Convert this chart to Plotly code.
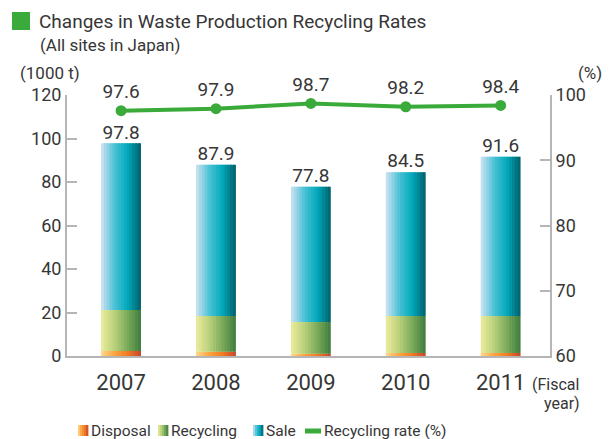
import plotly.graph_objects as go

# data
years = ['2007', '2008', '2009', '2010', '2011']
disposal = [2.3, 2.0, 1.1, 1.4, 1.4]
recycling = [18.9, 16.4, 14.5, 17.0, 17.0]
sale = [76.6, 69.5, 62.2, 66.1, 73.2]
totals = [97.8, 87.9, 77.8, 84.5, 91.6]
rate = [97.6, 97.9, 98.7, 98.2, 98.4]

FONT = 'Roboto, Liberation Sans, sans-serif'
TXT = '#363636'
AXC = '#b5b5b5'
GREEN = '#3aaa3a'

# plot area in pixels (used to place the decorations)
L, R, T, B = 67, 550, 95, 356


def px(x):
    return (x - L) / (R - L)


def py(y):
    return (B - y) / (B - T)


# gradient stops (left -> right) for each stacked part
grad = {
    'Disposal': ['#ffd98c', '#fba443', '#f27a22', '#c4462c'],
    'Recycling': ['#eceb9c', '#b9d17c', '#7aaa5a', '#3f7c3f'],
    'Sale': ['#cfe3f2', '#4cc2d6', '#00a8ba', '#005f6b'],
}


def hex2rgb(h):
    h = h.lstrip('#')
    return [int(h[i:i + 2], 16) for i in (0, 2, 4)]


def interp(stops, t):
    n = len(stops) - 1
    k = min(int(t * n), n - 1)
    f = t * n - k
    a, b = hex2rgb(stops[k]), hex2rgb(stops[k + 1])
    c = [round(a[j] + (b[j] - a[j]) * f) for j in range(3)]
    return 'rgb(%d,%d,%d)' % tuple(c)


x = list(range(len(years)))
bw = 0.42
nstrip = 14
sw = bw / nstrip

base_rec = disposal
base_sale = [d + r for d, r in zip(disposal, recycling)]
parts = [('Disposal', disposal, [0] * len(years)),
         ('Recycling', recycling, base_rec),
         ('Sale', sale, base_sale)]

fig = go.Figure()

# gradient bars made of thin strips (each a bit wider so no seams show)
for name, vals, base in parts:
    for i in range(nstrip):
        col = interp(grad[name], (i + 0.5) / nstrip)
        w = sw * 1.6 if i < nstrip - 1 else sw
        fig.add_trace(go.Bar(x=x, y=vals, base=base, width=w,
                             offset=-bw / 2 + i * sw, marker_color=col,
                             marker_line_width=0, showlegend=False,
                             hoverinfo='skip'))

# total labels
fig.add_trace(go.Scatter(x=x, y=totals, mode='text', text=[f'{v:.1f}' for v in totals],
                         textposition='top center', textfont=dict(size=19, color=TXT, family=FONT),
                         showlegend=False, hoverinfo='skip', cliponaxis=False))

# recycling rate line
fig.add_trace(go.Scatter(x=x, y=rate, yaxis='y2', mode='lines+markers+text',
                         text=[f'{v:.1f}' for v in rate], textposition='top center',
                         textfont=dict(size=19, color=TXT, family=FONT),
                         line=dict(color=GREEN, width=4), marker=dict(size=11, color=GREEN),
                         showlegend=False, cliponaxis=False))

fig.update_layout(
    width=611, height=439,
    margin=dict(l=L, r=611 - R, t=T, b=439 - B),
    plot_bgcolor='white', paper_bgcolor='white',
    barmode='overlay', showlegend=False,
    font=dict(family=FONT, color=TXT),
    xaxis=dict(range=[-0.57, 4.52], tickmode='array', tickvals=x, ticktext=years,
               tickfont=dict(size=22, color=TXT), showgrid=False, zeroline=False,
               showline=True, linecolor=AXC, linewidth=2, ticks='', automargin=False,
               ticklabelstandoff=6),
    yaxis=dict(range=[0, 120], dtick=20, showgrid=False, zeroline=False,
               showline=True, linecolor=AXC, linewidth=2, ticks='inside', ticklen=10,
               tickcolor=AXC, tickwidth=2, tickfont=dict(size=18, color=TXT), automargin=False),
    yaxis2=dict(range=[60, 100], dtick=10, overlaying='y', side='right', showgrid=False,
                zeroline=False, showline=True, linecolor=AXC, linewidth=2, ticks='inside',
                ticklen=10, tickcolor=AXC, tickwidth=2, tickfont=dict(size=18, color=TXT),
                automargin=False),
)

# title block
fig.add_shape(type='rect', xref='paper', yref='paper', x0=px(12), x1=px(30), y0=py(30), y1=py(12),
              fillcolor=GREEN, line_width=0)
fig.add_annotation(xref='paper', yref='paper', x=px(37), y=py(21), xanchor='left', yanchor='middle',
                   text='Changes in Waste Production Recycling Rates',
                   showarrow=False, font=dict(size=19, color=TXT))
fig.add_annotation(xref='paper', yref='paper', x=px(38), y=py(45), xanchor='left', yanchor='middle',
                   text='(All sites in Japan)', showarrow=False, font=dict(size=17, color=TXT))
fig.add_annotation(xref='paper', yref='paper', x=px(18), y=py(73), xanchor='left', yanchor='middle',
                   text='(1000 t)', showarrow=False, font=dict(size=17, color=TXT))
fig.add_annotation(xref='paper', yref='paper', x=px(576), y=py(73), xanchor='left', yanchor='middle',
                   text='(%)', showarrow=False, font=dict(size=17, color=TXT))
fig.add_annotation(xref='paper', yref='paper', x=px(530), y=py(384), xanchor='left', yanchor='middle',
                   text='(Fiscal', showarrow=False, font=dict(size=16, color=TXT))
fig.add_annotation(xref='paper', yref='paper', x=px(582), y=py(403), xanchor='right', yanchor='middle',
                   text='year)', showarrow=False, font=dict(size=16, color=TXT))

# legend drawn by hand so the keys can show the gradients
ly = 431
legend_items = [('Disposal', 78), ('Recycling', 158), ('Sale', 253)]
for name, x0 in legend_items:
    n = 5
    for i in range(n):
        fig.add_shape(type='rect', xref='paper', yref='paper',
                      x0=px(x0 + i * 2), x1=px(x0 + i * 2 + 2.4), y0=py(ly + 5), y1=py(ly - 6),
                      fillcolor=interp(grad[name], (i + 0.5) / n), line_width=0)
    fig.add_annotation(xref='paper', yref='paper', x=px(x0 + 11), y=py(ly), xanchor='left',
                       yanchor='middle', text=name, showarrow=False, font=dict(size=15.5, color=TXT))
fig.add_shape(type='line', xref='paper', yref='paper', x0=px(305), x1=px(321), y0=py(ly), y1=py(ly),
              line=dict(color=GREEN, width=5))
fig.add_annotation(xref='paper', yref='paper', x=px(322), y=py(ly), xanchor='left', yanchor='middle',
                   text='Recycling rate (%)', showarrow=False, font=dict(size=15.5, color=TXT))

# drop the default page margin so the figure sits at the window's corner
fig.write_html('out.html', config={'displayModeBar': False},
               post_script="document.body.style.margin='0';")
